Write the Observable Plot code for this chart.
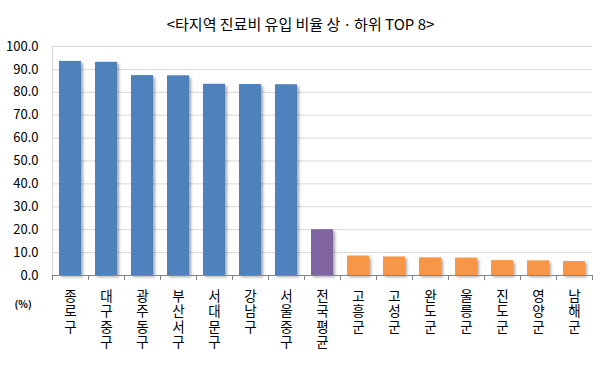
<!DOCTYPE html>
<html><head><meta charset="utf-8">
<script src="https://cdn.jsdelivr.net/npm/d3@7"></script>
<script src="https://cdn.jsdelivr.net/npm/@observablehq/plot@0.6"></script>
<style>body{margin:0;background:#fff;} svg{display:block;}</style>
</head><body><div id="chart"></div>
<script>
const title = "<타지역 진료비 유입 비율 상ㆍ하위 TOP 8>";
const unitLabel = "(%)";
const regions = ["종로구","대구중구","광주동구","부산서구","서대문구","강남구","서울중구","전국평균","고흥군","고성군","완도군","울릉군","진도군","영양군","남해군"];
const values = [93.5, 93.1, 87.3, 87.2, 83.5, 83.4, 83.3, 20.0, 8.5, 8.1, 7.7, 7.6, 6.5, 6.4, 6.1];
const groups = ["top","top","top","top","top","top","top","avg","bottom","bottom","bottom","bottom","bottom","bottom","bottom"];
const yTicks = [0,10,20,30,40,50,60,70,80,90,100];

const data = regions.map((r,i)=>({region:r, value:values[i], group:groups[i]}));
const font = "'Noto Sans CJK KR', 'Noto Sans', sans-serif";

const chart = Plot.plot({
  width: 604, height: 373,
  marginLeft: 52, marginRight: 12, marginTop: 46, marginBottom: 98,
  style: {fontFamily: font, background: "#fff"},
  x: {domain: regions, paddingInner: 0.4, paddingOuter: 0.2, axis: null, label: null},
  y: {domain: [0,100], axis: null, label: null},
  color: {domain: ["top","avg","bottom"], range: ["#4F81BD","#8064A2","#F79646"]},
  marks: [
    Plot.gridY(yTicks, {stroke: "#D9D9D9", strokeOpacity: 1}),
    Plot.ruleX([regions[0]], {dx: -18, y1: 0, y2: 100, stroke: "#D9D9D9"}),
    Plot.barY(data, {x: "region", y: "value", fill: "group"}),
    Plot.ruleY([0], {stroke: "#868686"}),
    Plot.axisY(yTicks, {tickSize: 0, tickPadding: 14, tickFormat: d => d.toFixed(1), fontSize: 13, fill: "#000", anchor: "left", label: null}),
    Plot.axisX({tickSize: 5, dx: -18, tickFormat: () => "", stroke: "#868686", label: null}),
    Plot.axisX([regions[regions.length-1]], {tickSize: 5, dx: 18, tickFormat: () => "", stroke: "#868686", label: null}),
    Plot.text(regions, {x: d => d, text: d => [...d].join("\n"), frameAnchor: "bottom", lineAnchor: "top",
      dy: 14, fontSize: 13.5, lineHeight: 1.15, fill: "#000"}),
    Plot.text([title], {frameAnchor: "top", dx: -22, dy: -27, fontSize: 15, fill: "#000"}),
    Plot.text([unitLabel], {frameAnchor: "bottom-left", dx: -38, dy: 32, fontSize: 10, fontWeight: "bold", fill: "#000"})
  ]
});
chart.querySelectorAll('g[aria-label="bar"]').forEach(g => g.style.filter = "drop-shadow(2px 2px 1.5px rgba(0,0,0,0.35))");
document.getElementById("chart").appendChild(chart);
</script></body></html>
